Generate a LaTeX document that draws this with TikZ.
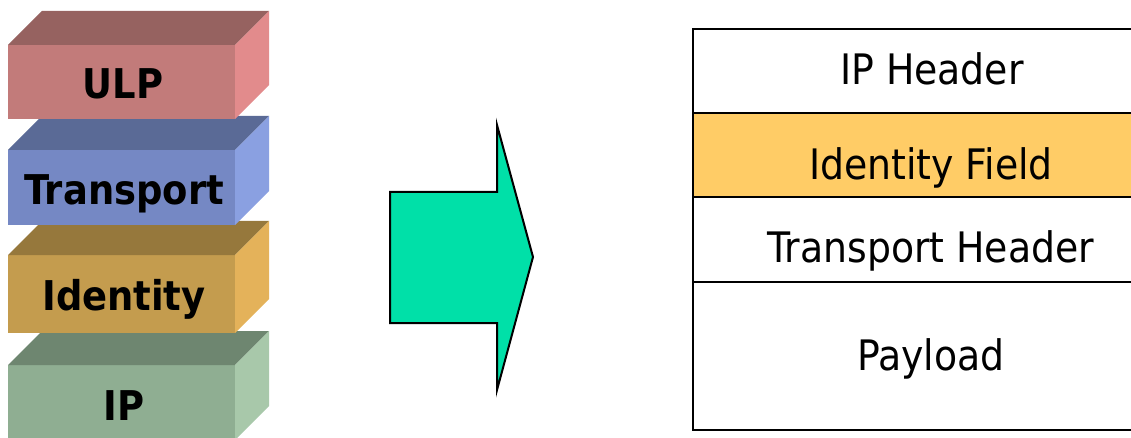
\documentclass[tikz,border=0pt]{standalone}
\usepackage{fontspec}
\setmainfont{DejaVu Sans Condensed}
\definecolor{ulpfront}{HTML}{C27B7A}
\definecolor{ulptop}{HTML}{966260}
\definecolor{ulpside}{HTML}{E28B8C}
\definecolor{trfront}{HTML}{7588C4}
\definecolor{trtop}{HTML}{5A6A96}
\definecolor{trside}{HTML}{8AA0E1}
\definecolor{idfront}{HTML}{C49C4E}
\definecolor{idtop}{HTML}{96783C}
\definecolor{idside}{HTML}{E4B25A}
\definecolor{ipfront}{HTML}{8FAE92}
\definecolor{iptop}{HTML}{6E8670}
\definecolor{ipside}{HTML}{A8C8AA}
\definecolor{arrowfill}{HTML}{00E0A8}
\definecolor{fieldfill}{HTML}{FFCC66}

\begin{document}
\begin{tikzpicture}[x=1pt, y=-1pt,
    lbl/.style={font=\bfseries\fontsize{41}{49}\selectfont, anchor=base},
    fld/.style={font=\fontsize{42}{50}\selectfont, anchor=base}
  ]
    \clip (0,0) rectangle (1131,438);

    % IP
    \fill[ipfront] (8,365) rectangle (235,440);
    \fill[iptop] (8,365) -- (42,331) -- (269,331) -- (235,365) -- cycle;
    \fill[ipside] (235,365) -- (269,331) -- (269,406) -- (235,440) -- cycle;
    % Identity
    \fill[idfront] (8,255) rectangle (235,333);
    \fill[idtop] (8,255) -- (42,221) -- (269,221) -- (235,255) -- cycle;
    \fill[idside] (235,255) -- (269,221) -- (269,299) -- (235,333) -- cycle;
    % Transport
    \fill[trfront] (8,150) rectangle (235,225);
    \fill[trtop] (8,150) -- (42,116) -- (269,116) -- (235,150) -- cycle;
    \fill[trside] (235,150) -- (269,116) -- (269,191) -- (235,225) -- cycle;
    % ULP
    \fill[ulpfront] (8,45) rectangle (235,119);
    \fill[ulptop] (8,45) -- (42,11) -- (269,11) -- (235,45) -- cycle;
    \fill[ulpside] (235,45) -- (269,11) -- (269,85) -- (235,119) -- cycle;

    \node[lbl] (ulp) at (123,99) {ULP};
    \node[lbl] (transport) at (124,205) {Transport};
    \node[lbl] (identity) at (124,310) {Identity};
    \node[lbl] (ip) at (124,420) {IP};

    \draw[fill=arrowfill, line width=2pt, line join=miter]
      (390,192) -- (497,192) -- (497,125) -- (533,257)
      -- (497,390) -- (497,323) -- (390,323) -- cycle;

    \fill[fieldfill] (693,113) rectangle (1140,197);
    \draw[line width=2pt] (1140,29) -- (693,29) -- (693,430) -- (1140,430);
    \draw[line width=2.5pt] (693,113) -- (1140,113);
    \draw[line width=2.5pt] (693,197) -- (1140,197);
    \draw[line width=2.5pt] (693,282) -- (1140,282);

    \node[fld] (iphdr) at (932,85) {IP Header};
    \node[fld] (idfield) at (931,180) {Identity Field};
    \node[fld] (trhdr) at (931,262) {Transport Header};
    \node[fld] (payload) at (931,370) {Payload};
  \end{tikzpicture}
\end{document}
